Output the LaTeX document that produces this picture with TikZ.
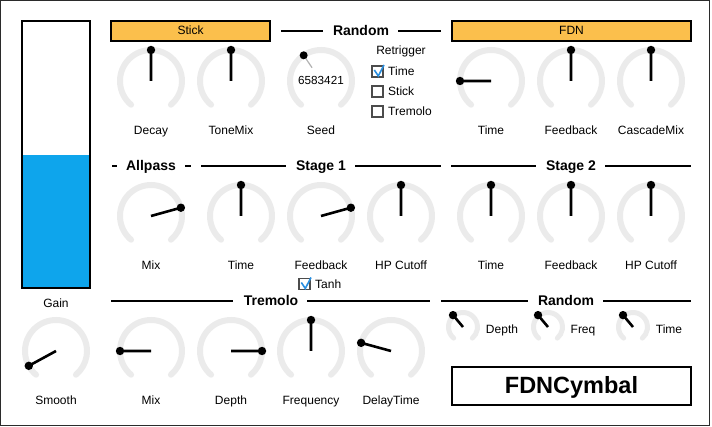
\documentclass[tikz,border=0pt]{standalone}
\usepackage{fontspec}
\setmainfont{Liberation Sans}
\definecolor{barblue}{HTML}{0EA5EC}
\definecolor{hdrorange}{HTML}{FBBF4C}
\definecolor{trackgray}{HTML}{EBEBEB}
\definecolor{framegray}{HTML}{2B2B2B}
\definecolor{tickblue}{HTML}{2A8FE0}
\tikzset{
	track/.style={draw=trackgray,line width=6,line cap=round},
	smalltrack/.style={draw=trackgray,line width=5,line cap=round},
	needle/.style={line width=2.6},
	lbl/.style={anchor=base,inner sep=0,font=\fontsize{12}{14}\selectfont},
	hdr/.style={anchor=base,inner sep=0,font=\fontsize{14}{16}\selectfont\bfseries},
	rule/.style={line width=2},
	cbox/.style={draw=black!70,line width=1.2},
	tick/.style={draw=tickblue,line width=1.6},
}
\begin{document}
\begin{tikzpicture}[x=1pt,y=1pt]
	\useasboundingbox(0,0)rectangle(712,-427);
	\draw[framegray,line width=1.2](0.6,-0.6)rectangle(709.4,-425.6);
	% gain meter
	\draw[line width=1.2,fill=white](22,-21)rectangle(90,-288);
	\fill[barblue](22.6,-155)rectangle(89.4,-287.4);
	\draw[line width=1.2](22,-21)rectangle(90,-288);
	\node[lbl](gain)at(56,-307.5){Gain};
	% top headers
	\draw[line width=1.2,fill=hdrorange](111,-21)rectangle(270,-41);
	\node[lbl](stick)at(190.5,-35){Stick};
	\draw[line width=1.2,fill=hdrorange](452,-21)rectangle(691,-41);
	\node[lbl](fdn)at(571.5,-35){FDN};
	\draw[rule](281,-31)--(323,-31);
	\draw[rule](398,-31)--(441,-31);
	\node[hdr](randomtop)at(361,-36){Random};
	% stick knobs
	\draw[track](151,-81)++(230:31)arc(230:-50:31);
	\filldraw[needle](151,-81)--++(90:31)circle(2.8);
	\node[lbl](decay)at(151,-135){Decay};
	\draw[track](231,-81)++(230:31)arc(230:-50:31);
	\filldraw[needle](231,-81)--++(90:31)circle(2.8);
	\node[lbl](tonemix)at(231,-135){ToneMix};
	% seed
	\draw[track](321,-81)++(230:31)arc(230:-50:31);
	\draw[black!30,line width=1.2](321,-81)++(124:16)--++(124:15);
	\fill(321,-81)++(124:31)circle(4);
	\node[anchor=base,inner sep=0,font=\fontsize{11.7}{14}\selectfont](seedval)at(321,-85){6583421};
	\node[lbl](seed)at(321,-135){Seed};
	% retrigger
	\node[lbl](retrig)at(401,-55){Retrigger};
	\draw[cbox](372,-66)rectangle(383,-77);
	\draw[tick](374.3,-70)--(378.3,-76)--(384,-65);
	\node[lbl,anchor=base west](rtime)at(388,-76){Time};
	\draw[cbox](372,-86)rectangle(383,-97);
	\node[lbl,anchor=base west](rstick)at(388,-96){Stick};
	\draw[cbox](372,-106)rectangle(383,-117);
	\node[lbl,anchor=base west](rtrem)at(388,-116){Tremolo};
	% fdn knobs
	\draw[track](491,-81)++(230:31)arc(230:-50:31);
	\filldraw[needle](491,-81)--++(180:31)circle(2.8);
	\node[lbl](fdntime)at(491,-135){Time};
	\draw[track](571,-81)++(230:31)arc(230:-50:31);
	\filldraw[needle](571,-81)--++(90:31)circle(2.8);
	\node[lbl](fdnfb)at(571,-135){Feedback};
	\draw[track](651,-81)++(230:31)arc(230:-50:31);
	\filldraw[needle](651,-81)--++(90:31)circle(2.8);
	\node[lbl](cascade)at(651,-135){CascadeMix};
	% middle headers
	\draw[rule](112,-166)--(117,-166);
	\draw[rule](185,-166)--(191,-166);
	\node[hdr](allpass)at(151,-170.7){Allpass};
	\draw[rule](201,-166)--(286,-166);
	\draw[rule](355,-166)--(441,-166);
	\node[hdr](stage1)at(321,-170.7){Stage 1};
	\draw[rule](451,-166)--(536,-166);
	\draw[rule](605,-166)--(691,-166);
	\node[hdr](stage2)at(571,-170.7){Stage 2};
	% allpass / stage 1
	\draw[track](151,-216)++(230:31)arc(230:-50:31);
	\filldraw[needle](151,-216)--++(15.5:31)circle(2.8);
	\node[lbl](apmix)at(151,-270){Mix};
	\draw[track](241,-216)++(230:31)arc(230:-50:31);
	\filldraw[needle](241,-216)--++(90:31)circle(2.8);
	\node[lbl](s1time)at(241,-270){Time};
	\draw[track](321,-216)++(230:31)arc(230:-50:31);
	\filldraw[needle](321,-216)--++(15.5:31)circle(2.8);
	\node[lbl](s1fb)at(321,-270){Feedback};
	\draw[track](401,-216)++(230:31)arc(230:-50:31);
	\filldraw[needle](401,-216)--++(90:31)circle(2.8);
	\node[lbl](s1hp)at(401,-270){HP Cutoff};
	\draw[cbox](299,-278.5)rectangle(310,-289.5);
	\draw[tick](301.3,-282.5)--(305.3,-288.5)--(311,-277.5);
	\node[lbl,anchor=base west](tanh)at(315,-288.3){Tanh};
	% stage 2
	\draw[track](491,-216)++(230:31)arc(230:-50:31);
	\filldraw[needle](491,-216)--++(90:31)circle(2.8);
	\node[lbl](s2time)at(491,-270){Time};
	\draw[track](571,-216)++(230:31)arc(230:-50:31);
	\filldraw[needle](571,-216)--++(90:31)circle(2.8);
	\node[lbl](s2fb)at(571,-270){Feedback};
	\draw[track](651,-216)++(230:31)arc(230:-50:31);
	\filldraw[needle](651,-216)--++(90:31)circle(2.8);
	\node[lbl](s2hp)at(651,-270){HP Cutoff};
	% bottom headers
	\draw[rule](111,-301)--(233,-301);
	\draw[rule](307,-301)--(430,-301);
	\node[hdr](tremolo)at(271,-306){Tremolo};
	\draw[rule](441,-301)--(528,-301);
	\draw[rule](603,-301)--(691,-301);
	\node[hdr](randombot)at(566,-306){Random};
	% smooth
	\draw[track](56,-351)++(230:31)arc(230:-50:31);
	\filldraw[needle](56,-351)--++(208.6:31)circle(2.8);
	\node[lbl](smooth)at(56,-404.3){Smooth};
	% tremolo knobs
	\draw[track](151,-351)++(230:31)arc(230:-50:31);
	\filldraw[needle](151,-351)--++(180:31)circle(2.8);
	\node[lbl](trmix)at(151,-404.3){Mix};
	\draw[track](231,-351)++(230:31)arc(230:-50:31);
	\filldraw[needle](231,-351)--++(0:31)circle(2.8);
	\node[lbl](trdepth)at(231,-404.3){Depth};
	\draw[track](311,-351)++(230:31)arc(230:-50:31);
	\filldraw[needle](311,-351)--++(90:31)circle(2.8);
	\node[lbl](trfreq)at(311,-404.3){Frequency};
	\draw[track](391,-351)++(230:31)arc(230:-50:31);
	\filldraw[needle](391,-351)--++(164.7:31)circle(2.8);
	\node[lbl](trdelay)at(391,-404.3){DelayTime};
	% random knobs
	\draw[smalltrack](463,-327)++(230:14.5)arc(230:-50:14.5);
	\filldraw[needle](463,-327)--++(130:15.5)circle(2.8);
	\node[lbl](rnddepth)at(502,-333.3){Depth};
	\draw[smalltrack](548,-327)++(230:14.5)arc(230:-50:14.5);
	\filldraw[needle](548,-327)--++(130:15.5)circle(2.8);
	\node[lbl](rndfreq)at(583,-333.3){Freq};
	\draw[smalltrack](633,-327)++(230:14.5)arc(230:-50:14.5);
	\filldraw[needle](633,-327)--++(130:15.5)circle(2.8);
	\node[lbl](rndtime)at(669,-333.3){Time};
	% title
	\draw[line width=1.2](452,-367)rectangle(691,-405);
	\node[anchor=base,inner sep=0,font=\fontsize{23.5}{26}\selectfont\bfseries](title)at(571.5,-393){FDNCymbal};
\end{tikzpicture}
\end{document}
